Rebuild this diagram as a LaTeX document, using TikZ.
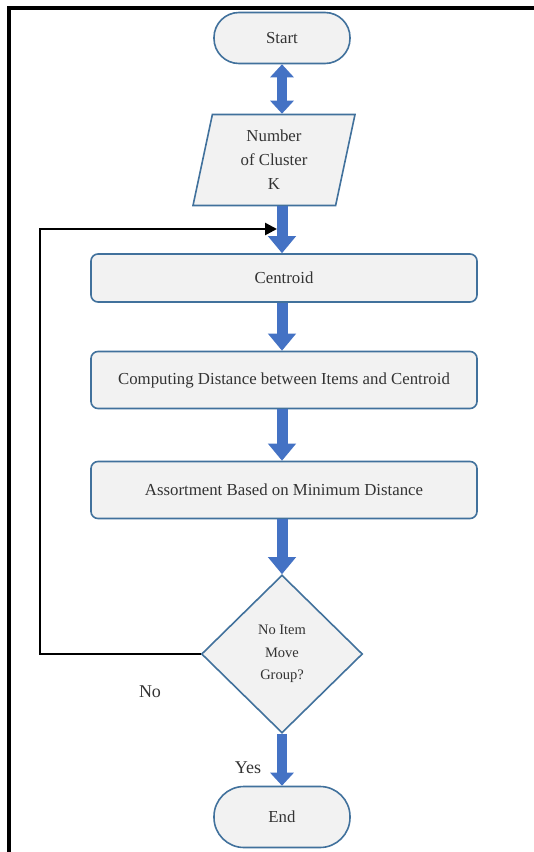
\documentclass[tikz,border=0pt]{standalone}
\usepackage{fontspec}
\setmainfont{Liberation Serif}
\usetikzlibrary{arrows.meta,shapes.geometric}
\definecolor{boxFill}{HTML}{F2F2F2}
\definecolor{boxEdge}{HTML}{41719C}
\definecolor{flowBlue}{HTML}{4472C4}
\definecolor{labelGray}{HTML}{333333}

\tikzset{
  flowbox/.style={draw=boxEdge, fill=boxFill, line width=1.6pt, text=labelGray,
    font=\fontsize{16.8}{20}\selectfont, inner sep=0pt},
  terminal/.style={flowbox, minimum width=136pt},
  process/.style={flowbox, rounded corners=7pt, minimum width=386pt},
  blockArrow/.style={draw=flowBlue, line width=11pt,
    -{Triangle[width=27pt,length=17pt]}},
  smallArrow/.style={draw=flowBlue, line width=10pt,
    -{Triangle[width=23pt,length=13pt]}},
}

\begin{document}
\begin{tikzpicture}[x=1pt,y=-1pt]
  \useasboundingbox (0,0) rectangle (534,852);
  \fill[white] (0,0) rectangle (534,852);
  \draw[line width=4pt] (9,852) -- (9,8) -- (534,8);

  \node[terminal, rounded corners=25pt, minimum height=51pt] (start) at (282,38) {Start};
  \node[flowbox, trapezium, trapezium left angle=72, trapezium right angle=108,
        trapezium stretches body, minimum width=162pt, minimum height=91pt, align=center,
        font=\fontsize{16.8}{24}\selectfont] (clusterK) at (274,160) {Number\\of Cluster\\K};
  \node[process, minimum height=48pt] (centroid) at (284,278) {Centroid};
  \node[process, minimum height=57pt] (computing) at (284,380) {Computing Distance between Items and Centroid};
  \node[process, minimum height=57pt] (assort) at (284,490) {Assortment Based on Minimum Distance};
  \node[flowbox, diamond, minimum width=161pt, minimum height=158pt, align=center,
        font=\fontsize{14.5}{22.5}\selectfont] (decide) at (282,654) {No Item\\Move\\Group?};
  \node[terminal, rounded corners=30pt, minimum height=61pt] (finish) at (282,817) {End};

  \draw[smallArrow, {Triangle[width=23pt,length=13pt]}-{Triangle[width=23pt,length=13pt]}]
    (start.south) -- (start.south |- clusterK.north);
  \draw[blockArrow] (start.south |- clusterK.south) -- (start.south |- centroid.north);
  \draw[blockArrow] (start.south |- centroid.south) -- (start.south |- computing.north);
  \draw[blockArrow] (start.south |- computing.south) -- (start.south |- assort.north);
  \draw[blockArrow] (start.south |- assort.south) -- (decide.north);
  \draw[smallArrow] (decide.south) -- (finish.north);

  \coordinate (loopCorner) at (40,229);
  \coordinate (loopIn) at (277,229);
  \draw[line width=2.6pt, -{Triangle[width=12pt,length=12pt]}]
    (decide.west) -| (loopCorner) -- (loopIn);

  \node[text=labelGray, font=\fontsize{18}{20}\selectfont] (noLabel) at (150,692) {No};
  \node[text=labelGray, font=\fontsize{18}{20}\selectfont] (yesLabel) at (248,768) {Yes};
\end{tikzpicture}
\end{document}
